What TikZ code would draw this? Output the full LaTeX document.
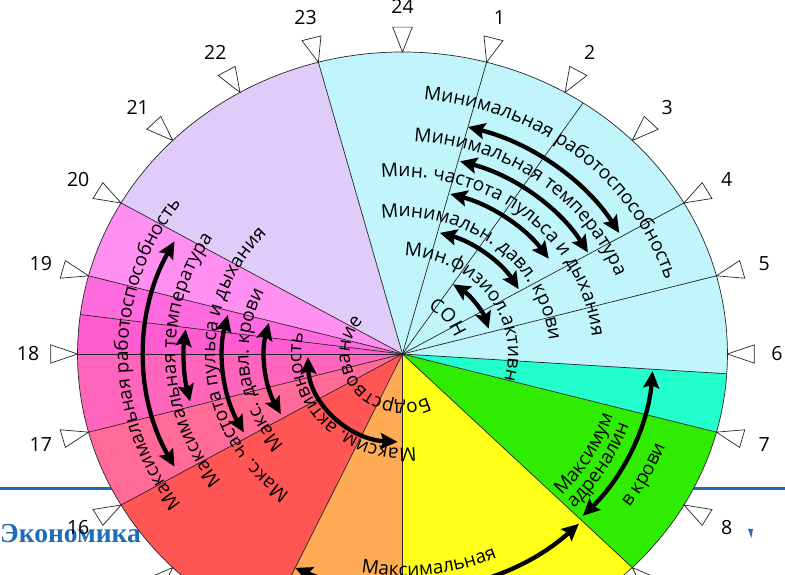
\documentclass[tikz,border=0pt]{standalone}
\usepackage{fontspec}
\setmainfont{Open Sans}
\newfontfamily\ecofont{Liberation Serif}
\usetikzlibrary{decorations.text,arrows.meta}
\definecolor{cyanbg}{HTML}{BFF5FB}
\definecolor{turq}{HTML}{22FFCC}
\definecolor{grn}{HTML}{30EC00}
\definecolor{yel}{HTML}{FFFF18}
\definecolor{org}{HTML}{FFAA55}
\definecolor{redc}{HTML}{FF5555}
\definecolor{pinkA}{HTML}{FF6A98}
\definecolor{pinkB}{HTML}{FF66BB}
\definecolor{pinkC}{HTML}{FF5CD2}
\definecolor{pinkD}{HTML}{FF6ADE}
\definecolor{pinkE}{HTML}{FF90F2}
\definecolor{lav}{HTML}{E0CCF8}
\definecolor{ecoblue}{HTML}{1F6DB8}
\begin{document}
\fontsize{19}{22}\selectfont
\begin{tikzpicture}[x=1.076pt,y=1pt,
  sep/.style={draw=black!85,line width=0.7pt},
  dbl/.style={line width=4.3pt,{Stealth[length=17pt,width=16pt,inset=3pt]}-{Stealth[length=17pt,width=16pt,inset=3pt]}},
  tri/.style={draw=black!85,line width=0.7pt,fill=white},
  hour/.style={font=\fontsize{19.5}{22}\selectfont,inner sep=0pt},
  cw/.style args={#1}{decorate,decoration={text along path,text align=center,text={#1}}},
]
\useasboundingbox (-374.07,-221) rectangle (355.48,354);
\clip (-374.07,-221) rectangle (355.48,354);
% background slide elements
\draw[ecoblue,line width=2.7pt] (-374.07,-134.5) -- (355.48,-134.5);
\node[anchor=base west,inner sep=0pt,text=ecoblue,font=\ecofont\bfseries\fontsize{27.5}{30}\selectfont] (eco) at (-374.07,-189) {Экономика};
\fill[ecoblue] (321.1,-175) -- (325.7,-175) -- (324.3,-184) -- cycle;
% sectors
\fill[cyanbg] (0,0) -- (-3.75:302) arc[start angle=-3.75,end angle=105,radius=302] -- cycle;
\fill[lav] (0,0) -- (105:302) arc[start angle=105,end angle=150,radius=302] -- cycle;
\fill[pinkE] (0,0) -- (150:302) arc[start angle=150,end angle=165,radius=302] -- cycle;
\fill[pinkD] (0,0) -- (165:302) arc[start angle=165,end angle=172.5,radius=302] -- cycle;
\fill[pinkC] (0,0) -- (172.5:302) arc[start angle=172.5,end angle=180,radius=302] -- cycle;
\fill[pinkB] (0,0) -- (180:302) arc[start angle=180,end angle=195,radius=302] -- cycle;
\fill[pinkA] (0,0) -- (195:302) arc[start angle=195,end angle=210,radius=302] -- cycle;
\fill[redc] (0,0) -- (210:302) arc[start angle=210,end angle=245,radius=302] -- cycle;
\fill[org] (0,0) -- (245:302) arc[start angle=245,end angle=270,radius=302] -- cycle;
\fill[yel] (0,0) -- (270:302) arc[start angle=270,end angle=315,radius=302] -- cycle;
\fill[grn] (0,0) -- (315:302) arc[start angle=315,end angle=345,radius=302] -- cycle;
\fill[turq] (0,0) -- (345:302) arc[start angle=345,end angle=356.25,radius=302] -- cycle;
\foreach \a in {105,75,56.25,30,15,-3.75,-15,-45,-90,-115,-150,-165,180,172.5,165,150}
  \draw[sep] (0,0) -- (\a:302);
\draw[sep] (0,0) circle[radius=302];
% hour markers
\foreach \h in {1,...,24}{
  \draw[tri] ({90-15*\h}:302) -- ({90-15*\h+1.6}:327) -- ({90-15*\h-1.6}:327) -- cycle;
  \node[hour] (h\h) at ({90-15*\h}:348) {\h};
}
% texts, clockwise (tops outward)
\path[cw={Минимальная работоспособность}] (120:255) arc[start angle=120,end angle=-20,radius=255];
\path[cw={Минимальная температура}] (123:213) arc[start angle=123,end angle=-17,radius=213];
\path[cw={Мин. частота пульса и дыхания}] (130:177) arc[start angle=130,end angle=-30,radius=177];
\path[cw={Минимальн. давл. крови}] (131:137) arc[start angle=131,end angle=-29,radius=137];
\path[cw={Мин.физиол.активн}] (126:98) arc[start angle=126,end angle=-54,radius=98];
\path[cw={СОН}] (99:51) arc[start angle=99,end angle=-21,radius=51];
\path[cw={Максимальная работоспособность}] (250:255) arc[start angle=250,end angle=110,radius=255];
\path[cw={Максимальная температура}] (251.7:211) arc[start angle=251.7,end angle=111.7,radius=211];
\path[cw={Макс. частота пульса и дыхания}] (264.5:174) arc[start angle=264.5,end angle=104.5,radius=174];
\path[cw={Макс. давл. крови}] (266.5:143) arc[start angle=266.5,end angle=106.5,radius=143];
\path[cw={Максим. активность}] (322:94) arc[start angle=322,end angle=122,radius=94];
\path[cw={Бодрствование}] (328.7:49) arc[start angle=328.7,end angle=108.7,radius=49];
% texts, counter-clockwise (tops inward)
\path[cw={Максимум}] (-79.6:205) arc[start angle=-79.6,end angle=20.4,radius=205];
\path[cw={адреналин}] (-80.4:222) arc[start angle=-80.4,end angle=19.6,radius=222];
\path[cw={в крови}] (-77.4:261) arc[start angle=-77.4,end angle=22.6,radius=261];
\path[cw={Максимальная}] (-143:222) arc[start angle=-143,end angle=-23,radius=222];
% arrows
\draw[dbl] (75:235) arc[start angle=75,end angle=31,radius=235];
\draw[dbl] (74.5:200) arc[start angle=74.5,end angle=30.5,radius=200];
\draw[dbl] (74.5:166) arc[start angle=74.5,end angle=35,radius=166];
\draw[dbl] (74:126) arc[start angle=74,end angle=31,radius=126];
\draw[dbl] (56:84) arc[start angle=56,end angle=17.5,radius=84];
\draw[dbl] (-4.2:233) arc[start angle=-4.2,end angle=-44,radius=233];
\draw[dbl] (-46:236) arc[start angle=-46,end angle=-115,radius=236];
\draw[dbl] (152:240) arc[start angle=152,end angle=208,radius=240];
\draw[dbl] (173:203) arc[start angle=173,end angle=193.5,radius=203];
\draw[dbl] (166.5:167) arc[start angle=166.5,end angle=208,radius=167];
\draw[dbl] (166:128) arc[start angle=166,end angle=208,radius=128];
\draw[dbl] (182:88) arc[start angle=182,end angle=267,radius=88];
\end{tikzpicture}
\end{document}
